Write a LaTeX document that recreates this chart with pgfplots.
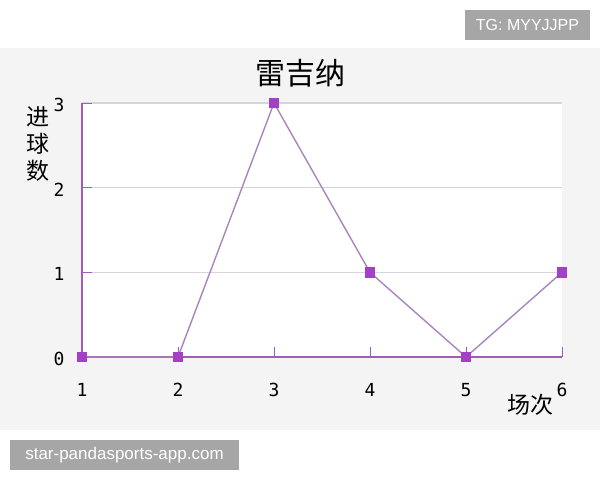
\documentclass[border=0pt]{standalone}
\usepackage{pgfplots}
\pgfplotsset{compat=1.18}
\usepackage{fontspec}
\setmainfont{Liberation Sans}
\newfontfamily\cjk{Noto Sans CJK SC}
\newfontfamily\monofont{DejaVu Sans Mono}
\definecolor{bgpanel}{HTML}{F4F4F4}
\definecolor{wmgray}{HTML}{A6A6A6}
\definecolor{axispurple}{HTML}{A05CB8}
\definecolor{linepurple}{HTML}{A886BC}
\definecolor{markpurple}{HTML}{A440C4}
\definecolor{gridgray}{HTML}{D8D4DE}
\begin{document}
\begin{tikzpicture}
% page layout: 600 x 480, origin top left
\fill[white] (0pt,0pt) rectangle (600pt,-480pt);
\fill[bgpanel] (0pt,-48pt) rectangle (600pt,-430pt);
\fill[wmgray] (465pt,-10pt) rectangle (590pt,-40pt);
\node[white, font=\fontsize{16}{18}\selectfont] at (527.5pt,-25pt) {TG: MYYJJPP};
\fill[wmgray] (10pt,-440pt) rectangle (239pt,-470pt);
\node[white, font=\fontsize{17}{19}\selectfont] at (124.5pt,-455pt) {star-pandasports-app.com};

\begin{axis}[
    at={(82pt,-357pt)}, anchor=south west,
    scale only axis,
    width=480pt, height=254pt,
    xmin=1, xmax=6,
    ymin=0, ymax=3,
    xtick={1,2,3,4,5,6},
    ytick={0,1,2,3},
    axis background/.style={fill=white},
    axis x line*=bottom,
    axis y line*=left,
    axis line style={-, axispurple},
    x axis line style={line width=2pt},
    y axis line style={line width=1.2pt},
    tick align=inside,
    major tick length=10pt,
    tick style={axispurple, line width=1pt},
    ymajorgrids=true,
    grid style={gridgray, line width=1.2pt},
    /pgf/number format/assume math mode=true,
    ticklabel style={font=\monofont\fontsize{18}{20}\selectfont},
    xticklabel style={anchor=center, yshift=-33pt},
    yticklabel style={anchor=center, xshift=-23pt, yshift=-2pt},
    title={雷吉纳},
    title style={font=\cjk\fontsize{30}{32}\selectfont, at={(axis description cs:0.456,1.094)}, anchor=center},
    xlabel={场次},
    xlabel style={font=\cjk\fontsize{23}{25}\selectfont, at={(axis description cs:0.935,-0.19)}, anchor=center},
    ylabel={进\\球\\数},
    ylabel style={font=\cjk\fontsize{23}{27}\selectfont, rotate=-90, align=center, at={(axis description cs:-0.092,0.84)}, anchor=center},
    clip=false,
]
\addplot[
    color=linepurple,
    line width=1.4pt,
    mark=square*,
    mark size=4.5pt,
    mark options={fill=markpurple, draw=markpurple},
    ]
    coordinates {
    (1,0)(2,0)(3,3)(4,1)(5,0)(6,1)
    };
\end{axis}
\end{tikzpicture}
\end{document}
